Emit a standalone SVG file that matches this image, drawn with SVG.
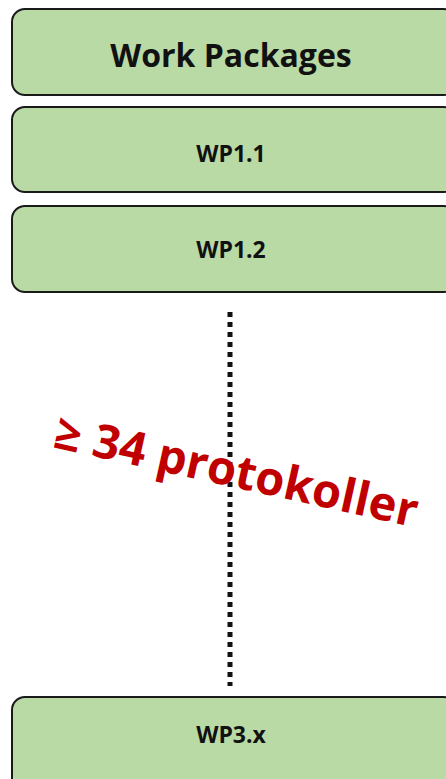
<svg xmlns="http://www.w3.org/2000/svg" width="446" height="779" viewBox="0 0 446 779">
<style>
.box{fill:#B9D9A5;stroke:#1a1a1a;stroke-width:2}
.lbl{font-family:"Open Sans","Liberation Sans",sans-serif;font-weight:bold;fill:#111;text-anchor:middle}
.red{font-family:"Open Sans","Liberation Sans",sans-serif;font-weight:bold;fill:#C00000}
</style>
<rect width="446" height="779" fill="#fff"/>
<g id="wp-header"><rect class="box" x="12" y="9" width="445" height="86" rx="13"/><text class="lbl" x="231" y="67" font-size="32">Work Packages</text></g>
<g id="wp11"><rect class="box" x="12" y="107" width="445" height="85" rx="13"/><text class="lbl" x="231" y="162" font-size="23">WP1.1</text></g>
<g id="wp12"><rect class="box" x="12" y="206" width="445" height="86" rx="13"/><text class="lbl" x="231" y="258" font-size="23">WP1.2</text></g>
<g id="wp3x"><rect class="box" x="12" y="697" width="445" height="100" rx="13"/><text class="lbl" x="231" y="743" font-size="23">WP3.x</text></g>
<g id="connectors"><line x1="230" y1="312" x2="230" y2="686" stroke="#111" stroke-width="5" stroke-dasharray="5 5"/></g>
<text class="red" x="52" y="447" font-size="47" transform="rotate(12.5 52 447)">≥ 34 protokoller</text>
</svg>
